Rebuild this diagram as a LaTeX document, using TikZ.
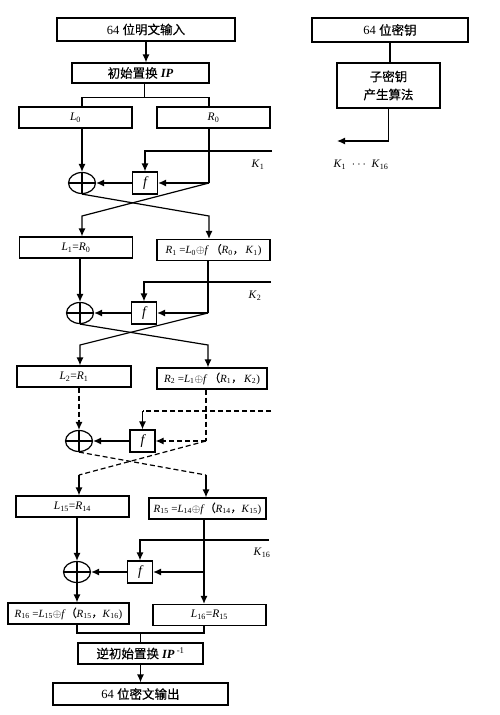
\documentclass[tikz,border=0pt]{standalone}
\usepackage{fontspec}
\setmainfont{Liberation Serif}
\newfontfamily\cjk[FakeBold=0.4]{Noto Sans CJK SC}
\usepackage{tikz}
\usetikzlibrary{arrows,arrows.meta,calc,shapes.geometric}
\newcommand\subv[2]{\textit{#1}\textsubscript{#2}}
\tikzset{
	box/.style={draw, line width=1.2pt, inner sep=0pt, minimum height=21pt, minimum width=#1},
	box/.default=113pt,
	cnbox/.style={box=#1, font=\fontsize{12.5}{15}\selectfont},
	eqbox/.style={box=#1, font=\fontsize{11}{13}\selectfont},
	xorc/.style={draw, ellipse, line width=1.2pt, minimum width=27pt, minimum height=21pt, inner sep=0pt},
	fun/.style={draw, line width=1.2pt, minimum width=25pt, minimum height=22pt, inner sep=0pt, font=\itshape\fontsize{14}{14}\selectfont},
	link/.style={line width=1.2pt, -{Latex[length=8pt,width=7pt]}},
	wire/.style={line width=1.2pt},
	dwire/.style={line width=1.2pt, dash pattern=on 5pt off 3pt}
}

\begin{document}
\begin{tikzpicture}[x=1pt, y=-1pt, font=\fontsize{11.5}{13}\selectfont]
	\useasboundingbox (0,0) rectangle (500,715);
	% Plaintext and initial permutation
	\node[cnbox=178pt, minimum height=23pt] (pin) at (146,29.5) {64 {\cjk 位明文输入}};
	\node[cnbox=137pt, minimum height=20pt] (ip) at (140.5,73) {{\cjk 初始置换} \textbf{\textit{IP}}};
	\draw[link] (pin.south) -- (pin.south |- ip.north);
	\coordinate (s0) at ($(ip.south)+(4,14)$);
	% Key schedule
	\node[cnbox=156pt, minimum height=24pt] (key) at (390,30) {64 {\cjk 位密钥}};
	\node[cnbox=103pt, minimum height=45pt, align=center] (subk) at (388.5,85.5) {{\cjk 子密钥}\\[3pt]{\cjk 产生算法}};
	\draw[wire] (key.south) -- (key.south |- subk.north);
	\coordinate (kout) at (337,141);
	\draw[link] (subk.south) |- (kout);
	\node (klist) at (361,165) {\subv{K}{1}~~$\cdots$~~\subv{K}{16}};
	% Round 1
	\node[box] (l0) at (75.5,117.5) {\subv{L}{0}};
	\node[box] (r0) at (213.5,117.5) {\subv{R}{0}};
	\node[xorc] (xor1) at (82,183) {};
	\node[fun] (f1) at (145,183) {f};
	\coordinate (c1) at (209,183);
	\coordinate (k1) at (272,151);
	\node (k1l) at (258,165) {\subv{K}{1}};
	\node[box] (l1) at (76,247.5) {\subv{L}{1}=\subv{R}{0}};
	\node[eqbox=113pt] (r1) at (213.5,250) {\subv{R}{1} =\subv{L}{0}$\oplus$\textit{f}\,{\cjk （}\subv{R}{0}{\cjk ，}\,\subv{K}{1})};
	\draw[wire] (ip.south -| s0) -- (s0);
	\draw[wire] (l0.north -| xor1) |- (s0) -| (r0.north -| c1);
	\draw[link] (l0.south -| xor1) -- (xor1.north);
	\draw[wire] (r0.south -| c1) -- (c1);
	\draw[link] (c1) -- (f1.east);
	\draw[link] (f1.west) -- (xor1.east);
	\draw[link] (k1) -| (f1.north);
	\draw[link] (xor1.south) -- (c1 |- 0,216) -- (r1.north -| c1);
	\draw[link] (c1) -- (xor1 |- 0,216) -- (l1.north -| xor1);
	% Round 2
	\node[xorc] (xor2) at (80,313) {};
	\node[fun] (f2) at (144,313) {f};
	\coordinate (c2) at (208,313);
	\coordinate (k2) at (271,282);
	\node (k2l) at (255,296) {\subv{K}{2}};
	\node[box=114pt] (l2) at (74,376.5) {\subv{L}{2}=\subv{R}{1}};
	\node[eqbox=110pt] (r2) at (212,378.5) {\subv{R}{2} =\subv{L}{1}$\oplus$\textit{f}\,{\cjk （}\subv{R}{1}{\cjk ，}\,\subv{K}{2})};
	\draw[link] (l1.south -| xor2) -- (xor2.north);
	\draw[wire] (r1.south -| c2) -- (c2);
	\draw[link] (c2) -- (f2.east);
	\draw[link] (f2.west) -- (xor2.east);
	\draw[link] (k2) -| (f2.north);
	\draw[link] (xor2.south) -- (c2 |- 0,345) -- (r2.north -| c2);
	\draw[link] (c2) -- (xor2 |- 0,345) -- (l2.north -| xor2);
	% Rounds 3 to 15 (dashed)
	\node[xorc] (xor3) at (79,441) {};
	\node[fun] (f3) at (142.5,441) {f};
	\coordinate (c3) at (206,441);
	\coordinate (k3) at (271,411);
	\node[box] (l15) at (72.5,506.5) {\subv{L}{15}=\subv{R}{14}};
	\node[eqbox=117pt] (r15) at (207.5,508.5) {\subv{R}{15} =\subv{L}{14}$\oplus$\textit{f}{\cjk （}\subv{R}{14}{\cjk ，}\subv{K}{15})};
	\draw[dwire, -{Latex[length=8pt,width=7pt]}] (l2.south -| xor3) -- (xor3.north);
	\draw[dwire] (r2.south -| c3) -- (c3);
	\draw[dwire, -{Latex[length=8pt,width=7pt]}] (c3) -- (f3.east);
	\draw[link] (f3.west) -- (xor3.east);
	\draw[dwire] (k3) -- (k3 -| f3);
	\draw[link] (k3 -| f3) -- (f3.north);
	\draw[dwire] (xor3.south) -- (c3 |- 0,475);
	\draw[link] (c3 |- 0,475) -- (r15.north -| c3);
	\draw[dwire] (c3) -- (xor3 |- 0,475);
	\draw[link] (xor3 |- 0,475) -- (l15.north -| xor3);
	% Round 16
	\node[xorc] (xor16) at (77,572) {};
	\node[fun] (f16) at (140,572) {f};
	\coordinate (c16) at (204,572);
	\coordinate (k16) at (269,540);
	\node (k16l) at (262,553) {\subv{K}{16}};
	\node[eqbox=121pt] (r16) at (68.5,613.5) {\subv{R}{16} =\subv{L}{15}$\oplus$\textit{f}{\cjk （}\subv{R}{15}{\cjk ，}\subv{K}{16})};
	\node[box] (l16) at (209.5,615) {\subv{L}{16}=\subv{R}{15}};
	\draw[link] (l15.south -| xor16) -- (xor16.north);
	\draw[link] (xor16.south) -- (r16.north -| xor16);
	\draw[wire] (r15.south -| c16) -- (c16);
	\draw[link] (c16) -- (f16.east);
	\draw[link] (c16) -- (l16.north -| c16);
	\draw[link] (f16.west) -- (xor16.east);
	\draw[link] (k16) -| (f16.north);
	% Final permutation and ciphertext
	\node[cnbox=125pt] (ipinv) at (140.5,653.5) {{\cjk 逆初始置换} \textbf{\textit{IP}}\,\textsuperscript{-1}};
	\node[cnbox=175pt, minimum height=22pt] (pout) at (140.5,694) {64 {\cjk 位密文输出}};
	\coordinate (s1) at (ipinv.north |- 0,633);
	\draw[wire] (r16.south -| xor16) |- (s1 -| c16) -- (l16.south -| c16);
	\draw[wire] (s1) -- (ipinv.north);
	\draw[link] (ipinv) -- (pout);
	% XOR crosses
	\foreach \n in {xor1,xor2,xor3,xor16}
		\draw[wire] (\n.north) -- (\n.south) (\n.west) -- (\n.east);
\end{tikzpicture}
\end{document}
